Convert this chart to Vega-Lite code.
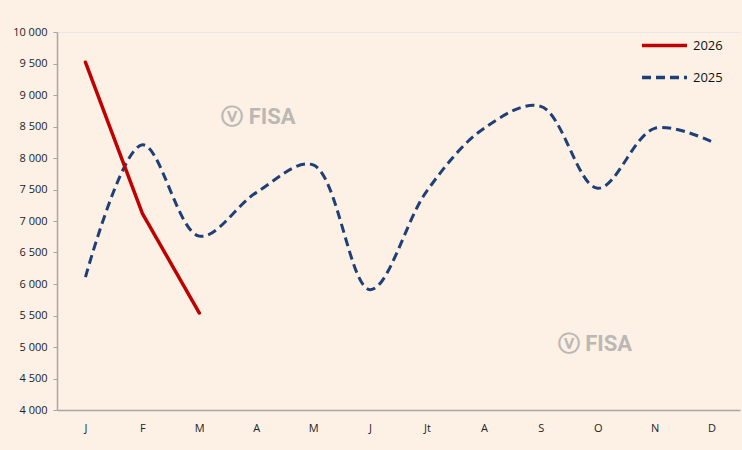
{
  "$schema": "https://vega.github.io/schema/vega-lite/v6.json",
  "autosize": {"type": "none"},
  "padding": {"left": 57, "top": 32, "right": 2, "bottom": 40},
  "width": 683,
  "height": 378,
  "background": "#FDF1E6",
  "config": {
    "font": "Open Sans",
    "view": {"stroke": null}
  },
  "data": {
    "values": [
      {"idx": 1, "mois": "J", "serie": "2026", "v": 9520},
      {"idx": 2, "mois": "F", "serie": "2026", "v": 7120},
      {"idx": 3, "mois": "M", "serie": "2026", "v": 5540},
      {"idx": 1, "mois": "J", "serie": "2025", "v": 6110},
      {"idx": 2, "mois": "F", "serie": "2025", "v": 8210},
      {"idx": 3, "mois": "M", "serie": "2025", "v": 6760},
      {"idx": 4, "mois": "A", "serie": "2025", "v": 7450},
      {"idx": 5, "mois": "M", "serie": "2025", "v": 7890},
      {"idx": 6, "mois": "J", "serie": "2025", "v": 5910},
      {"idx": 7, "mois": "Jt", "serie": "2025", "v": 7480},
      {"idx": 8, "mois": "A", "serie": "2025", "v": 8470},
      {"idx": 9, "mois": "S", "serie": "2025", "v": 8820},
      {"idx": 10, "mois": "O", "serie": "2025", "v": 7520},
      {"idx": 11, "mois": "N", "serie": "2025", "v": 8470},
      {"idx": 12, "mois": "D", "serie": "2025", "v": 8260}
    ]
  },
  "encoding": {
    "x": {
      "field": "idx", "type": "ordinal",
      "scale": {"domain": [1,2,3,4,5,6,7,8,9,10,11,12], "paddingInner": 0, "paddingOuter": 0},
      "axis": {
        "title": null,
        "labelExpr": "['J','F','M','A','M','J','Jt','A','S','O','N','D'][datum.value-1]",
        "labelAngle": 0,
        "labelFontSize": 11,
        "labelColor": "#222222",
        "labelPadding": 12,
        "ticks": false,
        "domainColor": "#a6a6a6",
        "domainWidth": 1.5
      }
    },
    "y": {
      "field": "v", "type": "quantitative",
      "scale": {"domain": [4000, 10000], "nice": false, "zero": false},
      "axis": {
        "title": null,
        "values": [4000, 4500, 5000, 5500, 6000, 6500, 7000, 7500, 8000, 8500, 9000, 9500, 10000],
        "labelExpr": "replace(format(datum.value, ','), /,/g, ' ')",
        "labelFontSize": 11,
        "labelColor": "#222222",
        "labelPadding": 6,
        "tickSize": 4,
        "tickColor": "#a6a6a6",
        "domainColor": "#a6a6a6",
        "domainWidth": 1.5,
        "grid": true,
        "gridColor": "#e8e8e8",
        "gridOpacity": {"condition": {"test": "datum.value == 10000", "value": 1}, "value": 0}
      }
    },
    "color": {
      "field": "serie", "type": "nominal",
      "scale": {"domain": ["2026", "2025"], "range": ["#C00000", "#1F3F77"]},
      "legend": {
        "title": null,
        "orient": "none",
        "legendX": 583,
        "legendY": -11,
        "symbolType": "stroke",
        "symbolSize": 2025,
        "symbolStrokeWidth": 3.5,
        "labelFontSize": 13,
        "labelFont": "Open Sans",
        "labelColor": "#111111",
        "rowPadding": -23,
        "labelOffset": 4
      }
    },
    "strokeDash": {
      "field": "serie", "type": "nominal",
      "scale": {"domain": ["2026", "2025"], "range": [[1, 0], [9, 5]]},
      "legend": null
    }
  },
  "layer": [
    {
      "transform": [{"filter": "datum.serie == '2025'"}],
      "mark": {"type": "line", "interpolate": "catmull-rom", "strokeWidth": 3, "strokeCap": "butt"}
    },
    {
      "transform": [{"filter": "datum.serie == '2026'"}],
      "mark": {"type": "line", "interpolate": "linear", "strokeWidth": 3.5, "strokeCap": "round"}
    },
    {
      "transform": [{"filter": "datum.idx == 4 && datum.serie == '2025'"}],
      "mark": {"type": "text", "font": "Roboto", "fontWeight": "bold", "fontSize": 22, "color": "#a0a0a0", "opacity": 0.7, "align": "left", "dx": -35},
      "encoding": {
        "y": {"datum": 8650, "type": "quantitative"},
        "text": {"value": "ⓥ FISA"},
        "color": {"value": "#a0a0a0"},
        "strokeDash": {"value": [1, 0]}
      }
    },
    {
      "transform": [{"filter": "datum.idx == 10 && datum.serie == '2025'"}],
      "mark": {"type": "text", "font": "Roboto", "fontWeight": "bold", "fontSize": 22, "color": "#a0a0a0", "opacity": 0.7, "align": "left", "dx": -40},
      "encoding": {
        "y": {"datum": 5050, "type": "quantitative"},
        "text": {"value": "ⓥ FISA"},
        "color": {"value": "#a0a0a0"},
        "strokeDash": {"value": [1, 0]}
      }
    }
  ]
}
